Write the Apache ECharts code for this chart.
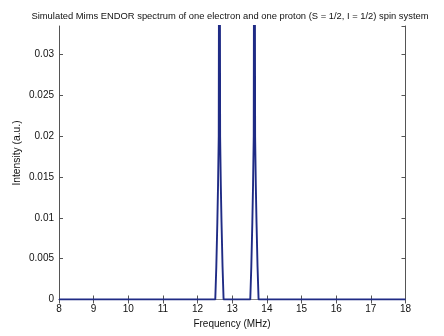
<!DOCTYPE html>
<html>
<head>
<meta charset="utf-8">
<script src="https://cdn.jsdelivr.net/npm/echarts@6/dist/echarts.min.js"></script>
<style>html,body{margin:0;padding:0;background:#fff;}#c{width:444px;height:336px;}</style>
</head>
<body>
<div id="c"></div>
<script>
var titleText = 'Simulated Mims ENDOR spectrum of one electron and one proton (S = 1/2, I = 1/2) spin system';
var xName = 'Frequency (MHz)';
var yName = 'Intensity (a.u.)';
var xTicks = [8, 9, 10, 11, 12, 13, 14, 15, 16, 17, 18];
var yTicks = [0, 0.005, 0.01, 0.015, 0.02, 0.025, 0.03];
var frequency = [8, 12.51, 12.54, 12.57, 12.59, 12.61, 12.63, 12.65, 12.67, 12.69, 12.72, 12.75,
                 13.52, 13.55, 13.58, 13.60, 13.62, 13.64, 13.66, 13.68, 13.70, 13.73, 13.76, 18];
var intensity = [0, 0, 0.004, 0.0095, 0.014, 0.02, 0.075, 0.02, 0.014, 0.0095, 0.004, 0,
                 0, 0.004, 0.0095, 0.014, 0.02, 0.075, 0.02, 0.014, 0.0095, 0.004, 0, 0];

var FONT = 'Liberation Sans, Arial, Helvetica, sans-serif';
var chart = echarts.init(document.getElementById('c'), null, {renderer: 'canvas'});
var pts = frequency.map(function (f, i) { return [f, intensity[i]]; });
var axisCol = '#555';
function yFmt(v) {
  for (var i = 0; i < yTicks.length; i++) if (Math.abs(v - yTicks[i]) < 1e-9) return String(yTicks[i]);
  return '';
}
function xFmt(v) {
  for (var i = 0; i < xTicks.length; i++) if (Math.abs(v - xTicks[i]) < 1e-9) return String(xTicks[i]);
  return '';
}
var xMin = xTicks[0], xMax = xTicks[xTicks.length - 1];
var yMin = 0, yMax = 0.0335;
chart.setOption({
  animation: false,
  backgroundColor: '#fff',
  grid: {left: 59, right: 38.5, top: 26, bottom: 36.5, containLabel: false},
  xAxis: [{
    type: 'value', min: xMin, max: xMax, interval: 1, position: 'bottom',
    axisLine: {show: true, lineStyle: {color: axisCol, width: 1}},
    axisTick: {show: true, inside: true, length: 4, lineStyle: {color: axisCol}},
    axisLabel: {color: '#111', fontSize: 10, fontFamily: FONT, margin: 5, formatter: xFmt},
    splitLine: {show: false}
  }, {
    type: 'value', min: xMin, max: xMax, interval: 1, position: 'top',
    axisLine: {show: true, lineStyle: {color: '#888', width: 1}},
    axisTick: {show: true, inside: true, length: 4, lineStyle: {color: axisCol}},
    axisLabel: {show: false},
    splitLine: {show: false}
  }],
  yAxis: [{
    type: 'value', min: yMin, max: yMax, interval: 0.005, position: 'left',
    axisLine: {show: true, lineStyle: {color: axisCol, width: 1}},
    axisTick: {show: true, inside: true, length: 4, lineStyle: {color: axisCol}},
    axisLabel: {color: '#111', fontSize: 10, fontFamily: FONT, margin: 5, formatter: yFmt, showMaxLabel: false},
    splitLine: {show: false}
  }, {
    type: 'value', min: yMin, max: yMax, interval: 0.005, position: 'right',
    axisLine: {show: true, lineStyle: {color: axisCol, width: 1}},
    axisTick: {show: true, inside: true, length: 4, lineStyle: {color: axisCol}},
    axisLabel: {show: false},
    splitLine: {show: false}
  }],
  graphic: [
    {type: 'text', x: 230, y: 16, style: {text: titleText, fill: '#111', font: '9.4px ' + FONT, textAlign: 'center', textVerticalAlign: 'middle'}},
    {type: 'text', x: 232, y: 324, style: {text: xName, fill: '#111', font: '10px ' + FONT, textAlign: 'center', textVerticalAlign: 'middle'}},
    {type: 'text', x: 17, y: 153, rotation: Math.PI / 2, style: {text: yName, fill: '#111', font: '10.3px ' + FONT, textAlign: 'center', textVerticalAlign: 'middle'}}
  ],
  series: [{
    type: 'line', xAxisIndex: 0, yAxisIndex: 0, data: pts,
    showSymbol: false, symbol: 'none', clip: true,
    lineStyle: {color: '#1f2b85', width: 1.9}, z: 5
  }]
});
</script>
</body>
</html>
